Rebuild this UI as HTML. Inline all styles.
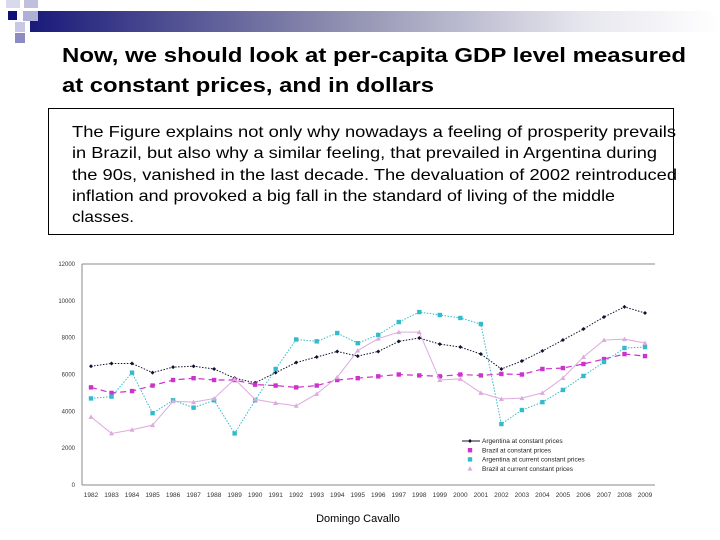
<!DOCTYPE html>
<html><head><meta charset="utf-8"><style>
html,body{margin:0;padding:0;background:#fff;}
svg{display:block;font-family:"Liberation Sans",Arial,sans-serif;}
</style></head><body>
<svg id="s" width="720" height="540" viewBox="0 0 720 540">
<defs>
<linearGradient id="bar" x1="0" x2="1" y1="0" y2="0">
<stop offset="0" stop-color="#1a1a7a"/><stop offset="0.45" stop-color="#8f8fb0"/><stop offset="0.8" stop-color="#e6e6ee"/><stop offset="1" stop-color="#ffffff"/>
</linearGradient>
</defs>
<g>
<rect x="30" y="11" width="690" height="21" fill="url(#bar)"/>
<rect x="6" y="0" width="14" height="8" fill="#d8d8ee"/>
<rect x="24" y="0" width="14" height="8" fill="#c0c0de"/>
<rect x="8" y="11" width="9" height="9" fill="#10107a"/>
<rect x="23" y="11" width="15" height="10" fill="#b0b0d6"/>
<rect x="15" y="22" width="10" height="10" fill="#c8c8e6"/>
<rect x="15" y="33" width="10" height="10" fill="#8c8cc2"/>
</g>
<g font-weight="bold" font-size="20" fill="#000">
<text x="62" y="62" textLength="624" lengthAdjust="spacingAndGlyphs">Now, we should look at per-capita GDP level measured</text>
<text x="62" y="92" textLength="372" lengthAdjust="spacingAndGlyphs">at constant prices, and in dollars</text>
</g>
<g>
<rect x="48.5" y="108.5" width="625" height="126" fill="#fff" stroke="#000" stroke-width="1"/>
<g font-size="16" fill="#000">
<text x="72" y="137" textLength="604" lengthAdjust="spacingAndGlyphs">The Figure explains not only why nowadays a feeling of prosperity prevails</text>
<text x="72" y="158" textLength="585" lengthAdjust="spacingAndGlyphs">in Brazil, but also why a similar feeling, that  prevailed in Argentina during</text>
<text x="72" y="180" textLength="605" lengthAdjust="spacingAndGlyphs">the 90s, vanished in the last decade. The devaluation of 2002 reintroduced</text>
<text x="72" y="201" textLength="543" lengthAdjust="spacingAndGlyphs">inflation and provoked a big fall in the standard of living of the middle</text>
<text x="72" y="222" textLength="62" lengthAdjust="spacingAndGlyphs">classes.</text>
</g>
</g>
<g id="chart"></g>
<text x="358" y="522" font-size="11" text-anchor="middle">Domingo Cavallo</text>
</svg>
<script>
const years = [1982,1983,1984,1985,1986,1987,1988,1989,1990,1991,1992,1993,1994,1995,1996,1997,1998,1999,2000,2001,2002,2003,2004,2005,2006,2007,2008,2009];
const argConst = [6450,6600,6600,6100,6400,6450,6300,5800,5550,6100,6650,6950,7250,7000,7250,7800,7980,7650,7490,7110,6300,6730,7280,7870,8470,9120,9670,9340];
const brConst = [5300,5000,5100,5400,5700,5800,5700,5700,5450,5400,5300,5400,5700,5800,5900,6000,5950,5900,6000,5950,6030,6000,6300,6350,6570,6840,7110,7000];
const argCurrent = [4700,4800,6100,3900,4600,4200,4600,2800,4600,6300,7900,7800,8250,7700,8150,8850,9390,9230,9070,8740,3310,4070,4500,5160,5920,6680,7440,7490];
const brCurrent = [3700,2800,3000,3250,4550,4500,4700,5750,4650,4450,4300,4950,5850,7300,7950,8300,8300,5700,5760,5000,4670,4720,5000,5810,6950,7870,7920,7710];
const yTicks = [0,2000,4000,6000,8000,10000,12000];
const seriesNames = ["Argentina at constant prices","Brazil at constant prices","Argentina at current constant prices","Brazil at current constant prices"];

const NS="http://www.w3.org/2000/svg";
const g=document.getElementById('chart');
const X0=82,X1=655,Y0=485,Y1=264;
const xs=i=>91+i*(645-91)/(years.length-1);
const ys=v=>Y0-(v/12000)*(Y0-Y1);
function mk(t,a,p){const e=document.createElementNS(NS,t);for(const k in a)e.setAttribute(k,a[k]);(p||g).appendChild(e);return e;}

let e=mk('line',{x1:X0,y1:Y1,x2:X1,y2:Y1,stroke:'#888','stroke-width':1});


e=mk('line',{x1:X0,y1:Y1,x2:X0,y2:Y0,stroke:'#888','stroke-width':1});


e=mk('line',{x1:X0,y1:Y0,x2:X1,y2:Y0,stroke:'#888','stroke-width':1});



yTicks.forEach(v=>{
 const t=mk('text',{x:75,y:ys(v)+2,'font-size':6,'text-anchor':'end',fill:'#333'});
 t.textContent=v;
 
 
});
years.forEach((y,i)=>{
 const t=mk('text',{x:xs(i),y:497,'font-size':6.5,'text-anchor':'middle',fill:'#333'});
 t.textContent=y;
 
 
});

const styles=[
 {data:argConst,color:'#111133',dash:'1.5,1.5',w:1,marker:'diamond',name:'argentina-constant'},
 {data:brConst,color:'#cc33cc',dash:'6,4',w:1.2,marker:'square',name:'brazil-constant'},
 {data:argCurrent,color:'#33bbcc',dash:'1.5,1.5',w:1,marker:'square',name:'argentina-current'},
 {data:brCurrent,color:'#ddaadd',dash:'',w:1,marker:'triangle',name:'brazil-current'}
];
function marker(type,x,y,c){
 let m;
 if(type==='diamond') m=mk('path',{d:`M${x},${y-2}L${x+2},${y}L${x},${y+2}L${x-2},${y}Z`,fill:c});
 else if(type==='square') m=mk('rect',{x:x-2.2,y:y-2.2,width:4.4,height:4.4,fill:c});
 else m=mk('path',{d:`M${x},${y-2.5}L${x+2.5},${y+2}L${x-2.5},${y+2}Z`,fill:c});
 return m;
}
styles.forEach(s=>{
 const pts=s.data.map((v,i)=>xs(i)+','+ys(v)).join(' ');
 const l=mk('polyline',{points:pts,fill:'none',stroke:s.color,'stroke-width':s.w,'stroke-dasharray':s.dash});
 
 
 s.data.forEach((v,i)=>{
  const m=marker(s.marker,xs(i),ys(v),s.color);
  
  
 });
});
// legend
styles.forEach((s,k)=>{
 const y=441+k*9.2;
 if(k===0){
  const l=mk('line',{x1:462,y1:y,x2:480,y2:y,stroke:s.color,'stroke-width':1});
  
  
 }
 const m=marker(s.marker,470,y,s.color);
 
 
 const t=mk('text',{x:482,y:y+2.2,'font-size':6.5,fill:'#222'});
 t.textContent=seriesNames[k];
 
 
});
</script>
</body></html>
